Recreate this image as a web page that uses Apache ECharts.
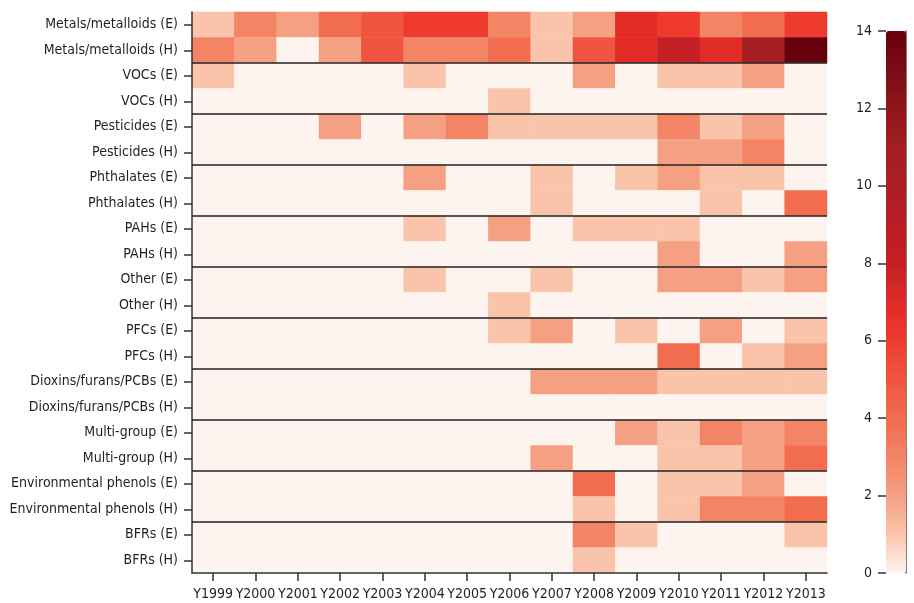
<!DOCTYPE html>
<html>
<head>
<meta charset="utf-8">
<script src="https://cdn.jsdelivr.net/npm/echarts@6/dist/echarts.min.js"></script>
<style>
html,body{margin:0;padding:0;background:#fff;}
#chart{width:914px;height:603px;}
</style>
</head>
<body>
<div id="chart"></div>
<script>
const years = ['Y1999','Y2000','Y2001','Y2002','Y2003','Y2004','Y2005','Y2006','Y2007','Y2008','Y2009','Y2010','Y2011','Y2012','Y2013'];
const rowLabels = [
  'Metals/metalloids (E)','Metals/metalloids (H)',
  'VOCs (E)','VOCs (H)',
  'Pesticides (E)','Pesticides (H)',
  'Phthalates (E)','Phthalates (H)',
  'PAHs (E)','PAHs (H)',
  'Other (E)','Other (H)',
  'PFCs (E)','PFCs (H)',
  'Dioxins/furans/PCBs (E)','Dioxins/furans/PCBs (H)',
  'Multi-group (E)','Multi-group (H)',
  'Environmental phenols (E)','Environmental phenols (H)',
  'BFRs (E)','BFRs (H)'
];
// values per row, Y1999..Y2013
const metalsE     = [1,3,2,4,5,6,6,3,1,2,7,6,3,4,6];
const metalsH     = [3,2,0,2,5,3,3,4,1,5,7,8,7,11,14];
const vocsE       = [1,0,0,0,0,1,0,0,0,2,0,1,1,2,0];
const vocsH       = [0,0,0,0,0,0,0,1,0,0,0,0,0,0,0];
const pesticidesE = [0,0,0,2,0,2,3,1,1,1,1,3,1,2,0];
const pesticidesH = [0,0,0,0,0,0,0,0,0,0,0,2,2,3,0];
const phthalatesE = [0,0,0,0,0,2,0,0,1,0,1,2,1,1,0];
const phthalatesH = [0,0,0,0,0,0,0,0,1,0,0,0,1,0,4];
const pahsE       = [0,0,0,0,0,1,0,2,0,1,1,1,0,0,0];
const pahsH       = [0,0,0,0,0,0,0,0,0,0,0,2,0,0,2];
const otherE      = [0,0,0,0,0,1,0,0,1,0,0,2,2,1,2];
const otherH      = [0,0,0,0,0,0,0,1,0,0,0,0,0,0,0];
const pfcsE       = [0,0,0,0,0,0,0,1,2,0,1,0,2,0,1];
const pfcsH       = [0,0,0,0,0,0,0,0,0,0,0,4,0,1,2];
const dioxinsE    = [0,0,0,0,0,0,0,0,2,2,2,1,1,1,1];
const dioxinsH    = [0,0,0,0,0,0,0,0,0,0,0,0,0,0,0];
const multiE      = [0,0,0,0,0,0,0,0,0,0,2,1,3,2,3];
const multiH      = [0,0,0,0,0,0,0,0,2,0,0,1,1,2,4];
const phenolsE    = [0,0,0,0,0,0,0,0,0,4,0,1,1,2,0];
const phenolsH    = [0,0,0,0,0,0,0,0,0,1,0,1,3,3,4];
const bfrsE       = [0,0,0,0,0,0,0,0,0,3,1,0,0,0,1];
const bfrsH       = [0,0,0,0,0,0,0,0,0,1,0,0,0,0,0];
const rows = [metalsE,metalsH,vocsE,vocsH,pesticidesE,pesticidesH,phthalatesE,phthalatesH,
  pahsE,pahsH,otherE,otherH,pfcsE,pfcsH,dioxinsE,dioxinsH,multiE,multiH,phenolsE,phenolsH,bfrsE,bfrsH];
const groupBoundaries = [2,4,6,8,10,12,14,16,18,20];
const colorTicks = [0,2,4,6,8,10,12,14];

const heatData = [];
rows.forEach((r, yi) => r.forEach((v, xi) => heatData.push([xi, yi, v])));

const FONT = "'DejaVu Sans Condensed','Liberation Sans Narrow',sans-serif";
const TXT = '#231f20';

const chart = echarts.init(document.getElementById('chart'), null, {renderer:'canvas'});
chart.setOption({
  animation: false,
  backgroundColor: '#ffffff',
  textStyle: {fontFamily: FONT},
  grid: [
    {left: 192, top: 12, width: 635, height: 561, containLabel: false},
    {left: 886, top: 31, width: 20, height: 542, containLabel: false, show: false}
  ],
  xAxis: [
    {
      type: 'category', data: years, gridIndex: 0, z: 4, position: 'bottom',
      axisLine: {show: true, onZero: false, lineStyle: {color: '#333', width: 1.5}},
      axisTick: {show: true, alignWithLabel: true, length: 8, lineStyle: {color: '#333', width: 1.5}},
      axisLabel: {fontFamily: FONT, fontSize: 14, color: TXT, margin: 14, interval: 0},
      splitLine: {show: false}
    },
    {type: 'value', gridIndex: 0, min: 0, max: 15, show: false},
    {type: 'value', gridIndex: 1, min: 0, max: 1, show: false}
  ],
  yAxis: [
    {
      type: 'category', data: rowLabels, gridIndex: 0, inverse: true, z: 4, position: 'left',
      axisLine: {show: true, onZero: false, lineStyle: {color: '#333', width: 1.5}},
      axisTick: {show: true, alignWithLabel: true, length: 8, lineStyle: {color: '#333', width: 1.5}},
      axisLabel: {fontFamily: FONT, fontSize: 14, color: TXT, margin: 14, interval: 0},
      splitLine: {show: false}
    },
    {type: 'value', gridIndex: 0, min: 0, max: 22, inverse: true, show: false},
    {
      type: 'value', gridIndex: 1, min: 0, max: 14, interval: 2, position: 'left',
      axisLine: {show: false, onZero: false},
      axisTick: {show: true, length: 8, lineStyle: {color: '#333', width: 1.5}},
      axisLabel: {fontFamily: FONT, fontSize: 14, color: TXT, margin: 14,
        customValues: colorTicks},
      splitLine: {show: false}
    },
    {
      type: 'value', gridIndex: 1, min: 0, max: 14, position: 'right',
      axisLine: {show: true, onZero: false, lineStyle: {color: '#555', width: 1.5}},
      axisTick: {show: false}, axisLabel: {show: false}, splitLine: {show: false}
    }
  ],
  visualMap: {
    type: 'continuous', min: 0, max: 14, seriesIndex: 0,
    left: 886, top: 31, itemWidth: 20, itemHeight: 542, padding: 0,
    text: null, calculable: false, showLabel: false, hoverLink: false,
    inRange: {color: ['#fef4ef','#fac4ab','#f5a083','#f38466','#f26c4f','#ef5540','#ee3b2d','#e02b27',
      '#c31f25','#b81e24','#ac1e23','#a31d21','#8f171c','#7a0b14','#67000d']}
  },
  series: [
    {
      type: 'heatmap', xAxisIndex: 0, yAxisIndex: 0, data: heatData,
      itemStyle: {borderWidth: 0}, emphasis: {disabled: true}, z: 2
    },
    {
      type: 'line', xAxisIndex: 1, yAxisIndex: 1, data: [[0, 0]], showSymbol: false,
      lineStyle: {opacity: 0}, z: 5, silent: true,
      markLine: {
        silent: true, symbol: ['none','none'], label: {show: false},
        lineStyle: {color: '#222', width: 1.5, type: 'solid'},
        emphasis: {disabled: true},
        data: groupBoundaries.map(v => ({yAxis: v}))
      }
    }
  ]
});
</script>
</body>
</html>
